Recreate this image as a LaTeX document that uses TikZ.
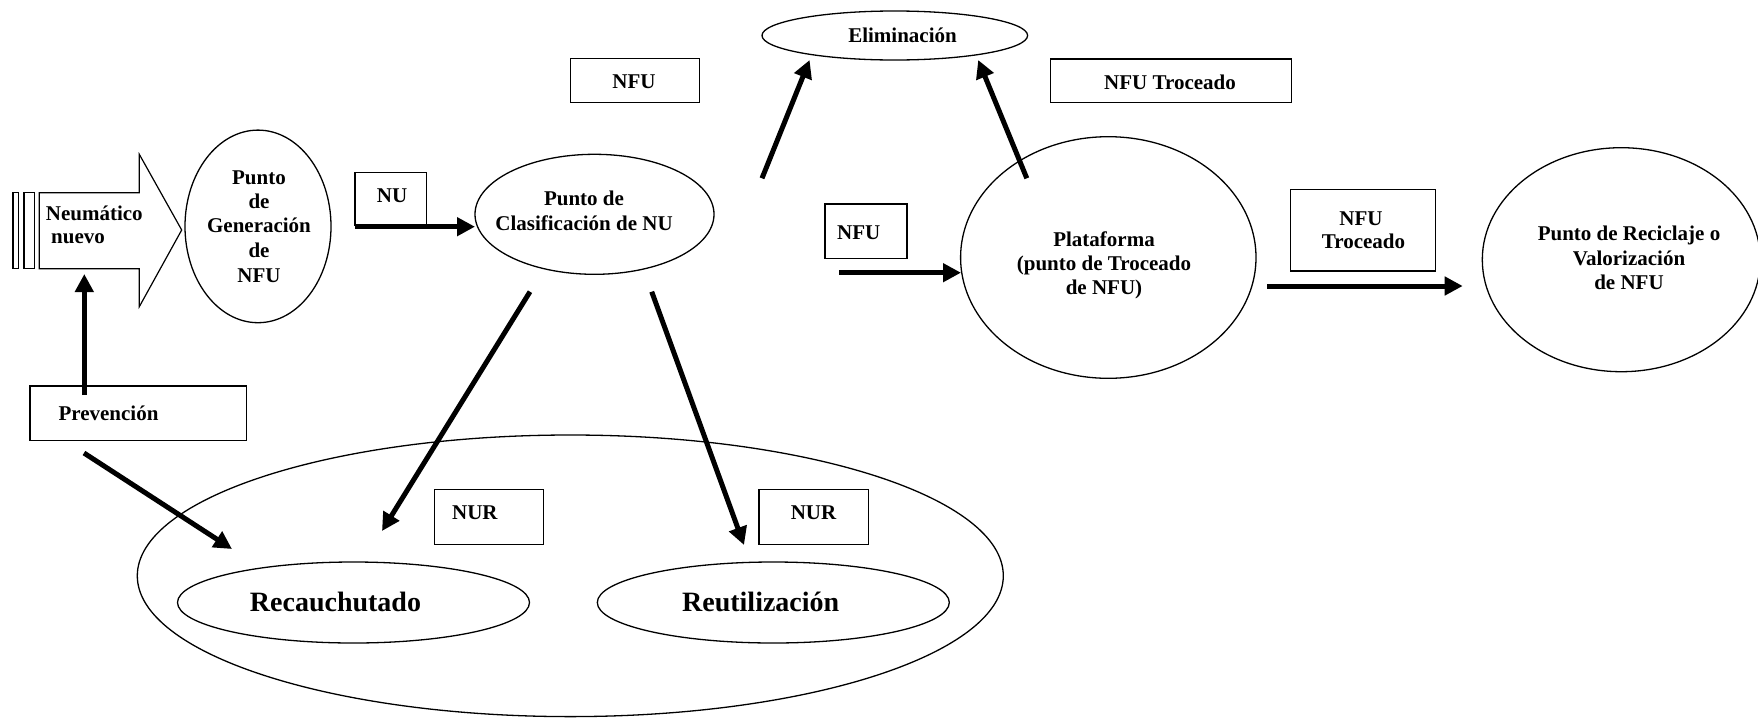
\documentclass[tikz,border=0pt]{standalone}
\usepackage{fontspec}
\setmainfont{Liberation Serif}
\usetikzlibrary{shapes.geometric,arrows.meta}
\begin{document}
\begin{tikzpicture}[x=1pt,y=-1pt,
  txt/.style={font=\bfseries\fontsize{21}{24}\selectfont, inner sep=0, anchor=base},
  txtl/.style={txt, anchor=base west},
  bigtxt/.style={font=\bfseries\fontsize{28}{32}\selectfont, inner sep=0, anchor=base},
  ell/.style 2 args={draw, ellipse, line width=1.3pt, inner sep=0, minimum width=#1pt, minimum height=#2pt},
  box/.style 2 args={draw, rectangle, line width=1.3pt, inner sep=0, minimum width=#1pt, minimum height=#2pt},
  arr/.style={line width=5pt, -{Triangle[length=18pt,width=18pt]}},
  thin/.style={draw, line width=1.2pt, line join=miter}
]
\useasboundingbox (0,0) rectangle (1758,718);

% ---- block arrow "Neumatico nuevo"
\draw[thin] (13,192.7) rectangle (18.7,268.7);
\draw[thin] (24,192.7) rectangle (34.3,268.7);
\draw[thin] (39.3,192.7) -- (139.3,192.7) -- (139.3,154.3) -- (181.7,230) -- (139.3,306.7) -- (139.3,268.7) -- (39.3,268.7) -- cycle;
\node[txtl] (neu1) at (45.7,220) {Neumático};
\node[txtl] (neu2) at (51,243) {nuevo};

% ---- ellipses
\node[ell={146}{192.6}] (gen) at (258,226.4) {};
\node[ell={239}{120}] (clas) at (594.5,214.3) {};
\node[ell={265.6}{49}] (elim) at (894.8,35.5) {};
\node[ell={295.4}{241.6}] (plat) at (1108.3,257.5) {};
\node[ell={278}{224}] (recic) at (1621.3,259.7) {};
\node[ell={866}{281.6}] (grupo) at (570.3,575.8) {};
\node[ell={352}{81}] (recau) at (353.5,602.5) {};
\node[ell={352}{81}] (reut) at (773.3,602.5) {};

% ---- boxes
\node[box={71.7}{52.3}] (nubox) at (390.85,198.85) {};
\node[box={128.6}{44}] (nfubox) at (635,80.7) {};
\node[box={241.1}{43.7}] (nfutbox) at (1171.25,80.85) {};
\node[box={82.1}{54.7}] (nfumbox) at (866.05,231.35) {};
\node[box={145}{81.7}] (nfut2box) at (1363.2,230.15) {};
\node[box={216.7}{54.7}] (prevbox) at (138.35,413.35) {};
\node[box={109}{55}] (nur1box) at (489.2,516.8) {};
\node[box={109.3}{55}] (nur2box) at (813.65,516.8) {};

% ---- texts
\node[txt] (g1) at (259,184) {Punto};
\node[txt] (g2) at (259,208) {de};
\node[txt] (g3) at (259,232) {Generación};
\node[txt] (g4) at (259,257) {de};
\node[txt] (g5) at (259,282) {NFU};

\node[txt] (c1) at (584,205.7) {Punto de};
\node[txt] (c2) at (584,230.7) {Clasificación de NU};

\node[txt] (e1) at (902.5,42.7) {Eliminación};

\node[txt] (p1) at (1104,246.7) {Plataforma};
\node[txt] (p2) at (1104,270) {(punto de Troceado};
\node[txt] (p3) at (1104,294) {de NFU)};

\node[txt] (r1) at (1629,240) {Punto de Reciclaje o};
\node[txt] (r2) at (1629,265) {Valorización};
\node[txt] (r3) at (1629,289.3) {de NFU};

\node[txtl] (nut) at (376.7,202.7) {NU};
\node[txt] (nfut) at (634,88.3) {NFU};
\node[txt] (nfutt) at (1170,89.3) {NFU Troceado};
\node[txtl] (nfumt) at (837,239.3) {NFU};
\node[txt] (t21) at (1361,225) {NFU};
\node[txt] (t22) at (1363.5,248.3) {Troceado};
\node[txtl] (prevt) at (58.3,420) {Prevención};
\node[txtl] (nur1t) at (451.9,519) {NUR};
\node[txtl] (nur2t) at (790.6,519) {NUR};

\node[bigtxt] (recaut) at (335.5,611.5) {Recauchutado};
\node[bigtxt] (reutt) at (760.7,611.5) {Reutilización};

% ---- arrow end points
\coordinate (prevup) at (84.3,395);
\coordinate (neubot) at (84.3,274);
\coordinate (prevdg) at (84,453);
\coordinate (recautop) at (232,549);
\coordinate (nuarr) at (355,226.7);
\coordinate (clasin) at (475,226.7);
\coordinate (clasl) at (530,291.7);
\coordinate (recauin) at (382,531);
\coordinate (clasr) at (651.7,291.7);
\coordinate (reutin) at (744,545);
\coordinate (elimsrc) at (762,178.3);
\coordinate (elimin1) at (809.6,60);
\coordinate (platout) at (1026.8,178.3);
\coordinate (elimin2) at (978.2,60);
\coordinate (nfumarr) at (839.3,272.7);
\coordinate (platin) at (961,272.7);
\coordinate (platr) at (1267.3,286);
\coordinate (recicin) at (1462.7,286);

% ---- arrows
\draw[arr] (prevup) -- (neubot);
\draw[arr] (prevdg) -- (recautop);
\draw[arr] (nuarr) -- (clasin);
\draw[arr] (clasl) -- (recauin);
\draw[arr] (clasr) -- (reutin);
\draw[arr] (elimsrc) -- (elimin1);
\draw[arr] (platout) -- (elimin2);
\draw[arr] (nfumarr) -- (platin);
\draw[arr] (platr) -- (recicin);
\end{tikzpicture}
\end{document}
